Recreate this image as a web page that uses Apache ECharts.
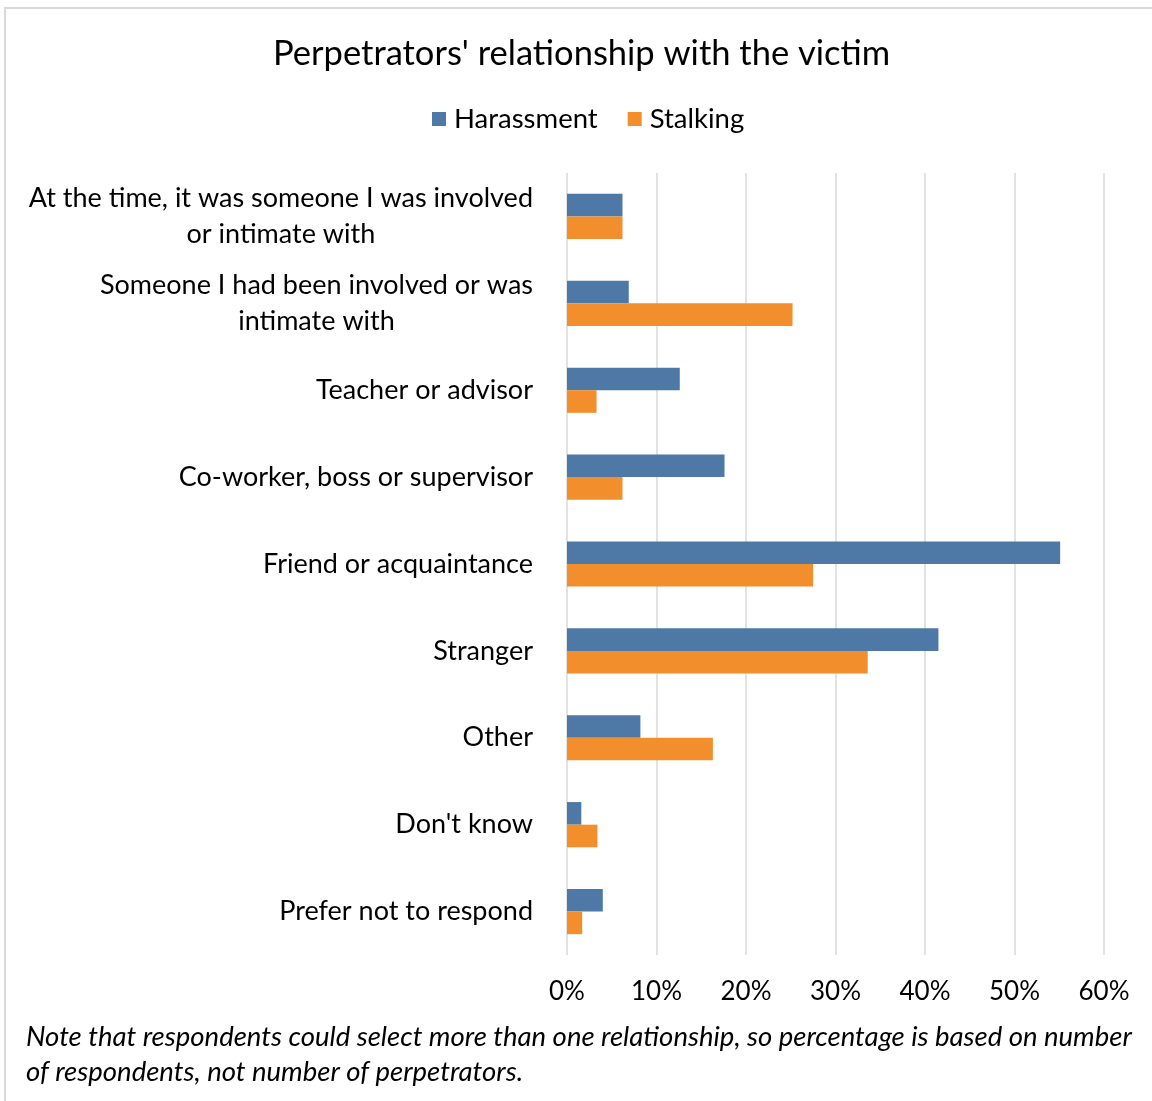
<!DOCTYPE html>
<html>
<head>
<meta charset="utf-8">
<script src="https://cdn.jsdelivr.net/npm/echarts@6/dist/echarts.min.js"></script>
<style>
html,body{margin:0;padding:0;background:#fff;}
#chart{width:1152px;height:1101px;}
</style>
</head>
<body>
<div id="chart"></div>
<script>
const categories = [
  "At the time, it was someone I was involved\nor intimate with",
  "Someone I had been involved or was\nintimate with",
  "Teacher or advisor",
  "Co-worker, boss or supervisor",
  "Friend or acquaintance",
  "Stranger",
  "Other",
  "Don't know",
  "Prefer not to respond"
];
const harassment = [6.2, 6.9, 12.6, 17.6, 55.1, 41.5, 8.2, 1.6, 4.0];
const stalking   = [6.2, 25.2, 3.3, 6.2, 27.5, 33.6, 16.3, 3.4, 1.7];
const xTicks = [0, 10, 20, 30, 40, 50, 60];
const titleText = "Perpetrators' relationship with the victim";
const noteText = "Note that respondents could select more than one relationship, so percentage is based on number\nof respondents, not number of perpetrators.";

const FONT = "Lato";
const chart = echarts.init(document.getElementById('chart'), null, {renderer: 'canvas'});
chart.setOption({
  backgroundColor: '#ffffff',
  animation: false,
  title: [
    {text: titleText, left: 268, top: 31,
     textStyle: {fontFamily: FONT, fontSize: 34.5, fontWeight: 'normal', color: '#000'}},
    {text: noteText, left: 21, top: 1015,
     textStyle: {fontFamily: FONT, fontSize: 27.5, fontStyle: 'italic', fontWeight: 'normal', color: '#000', lineHeight: 35}}
  ],
  legend: {
    data: ['Harassment', 'Stalking'],
    top: 100, left: 427,
    icon: 'rect', itemWidth: 14, itemHeight: 14, itemGap: 30,
    textStyle: {fontFamily: FONT, fontSize: 27.5, color: '#000', padding: [0,0,0,3]}
  },
  graphic: [{
    type: 'rect', shape: {x: 5, y: 8, width: 1200, height: 1200},
    style: {fill: 'none', stroke: '#d9d9d9', lineWidth: 2}, silent: true, z: -1
  }],
  grid: {left: 567, right: 48, top: 173, bottom: 146, containLabel: false},
  xAxis: {
    type: 'value', min: 0, max: 60, interval: 10,
    axisLine: {show: false}, axisTick: {show: false},
    splitLine: {show: true, lineStyle: {color: '#d9d9d9', width: 1.5}},
    axisLabel: {fontFamily: FONT, fontSize: 26, color: '#000', margin: 24,
      formatter: v => xTicks.includes(v) ? v + '%' : ''}
  },
  yAxis: {
    type: 'category', inverse: true, data: categories,
    axisLine: {show: false}, axisTick: {show: false},
    axisLabel: {
      fontFamily: FONT, fontSize: 27, color: '#000', margin: 34, align: 'right', lineHeight: 36,
      formatter: v => v.split('\n').map(s => '{c|' + s + '}').join('\n'),
      rich: {c: {align: 'center', fontFamily: FONT, fontSize: 27, color: '#000', lineHeight: 36}}
    }
  },
  series: [
    {name: 'Harassment', type: 'bar', data: harassment, barGap: '0%', barCategoryGap: '48%',
     itemStyle: {color: '#4e79a7'}},
    {name: 'Stalking', type: 'bar', data: stalking, barGap: '0%', barCategoryGap: '48%',
     itemStyle: {color: '#f28e2b'}}
  ]
});
</script>
</body>
</html>
